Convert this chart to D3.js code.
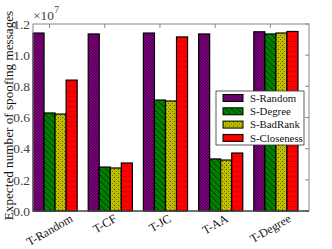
<!DOCTYPE html>
<meta charset="utf-8">
<head>
  <title>Expected spoofing messages</title>
  <style>
    body { margin: 0; background: #fff; }
    text { font-family: "Liberation Serif", "DejaVu Serif", serif; }
  </style>
</head>
<body>
<script src="https://d3js.org/d3.v7.min.js"></script>
<script>
var WIDTH = 332,
    HEIGHT = 249;

var categories = ["T-Random", "T-CF", "T-JC", "T-AA", "T-Degree"];
var seriesNames = ["S-Random", "S-Degree", "S-BadRank", "S-Closeness"];
var sRandom = [11420000, 11360000, 11420000, 11360000, 11500000];
var sDegree = [6290000, 2820000, 7120000, 3340000, 11360000];
var sBadRank = [6220000, 2760000, 7060000, 3270000, 11420000];
var sCloseness = [8400000, 3080000, 11170000, 3720000, 11520000];
var yTicks = [0, 2000000, 4000000, 6000000, 8000000, 10000000, 12000000];

var seriesValues = [sRandom, sDegree, sBadRank, sCloseness];
var fills = ["#800080", "#008000", "#bfbf00", "#ff0000"];

var margin = {left: 33, right: 23, top: 24, bottom: 38};
var plotW = WIDTH - margin.left - margin.right,
    plotH = HEIGHT - margin.top - margin.bottom;

var svg = d3.select("body").append("svg")
    .attr("width", WIDTH)
    .attr("height", HEIGHT);

// hatch patterns, a bit like matplotlib's / \ . -
var defs = svg.append("defs");

function pattern(id, size, fill, draw) {
  var p = defs.append("pattern")
      .attr("id", id)
      .attr("patternUnits", "userSpaceOnUse")
      .attr("width", size)
      .attr("height", size);
  p.append("rect").attr("width", size).attr("height", size).attr("fill", fill);
  draw(p);
}

pattern("h0", 3, fills[0], function(p) {
  p.append("path").attr("d", "M0,3 L3,0 M-1,1 L1,-1 M2,4 L4,2")
    .attr("stroke", "#300030").attr("stroke-width", 0.8);
});
pattern("h1", 6, fills[1], function(p) {
  p.append("path").attr("d", "M0,0 L6,6 M-1,5 L1,7 M5,-1 L7,1")
    .attr("stroke", "#002800").attr("stroke-width", 0.8);
});
pattern("h2", 4, fills[2], function(p) {
  p.append("rect").attr("x", 1).attr("y", 1).attr("width", 1).attr("height", 1).attr("fill", "#444400");
  p.append("rect").attr("x", 3).attr("y", 3).attr("width", 1).attr("height", 1).attr("fill", "#6a6a00");
});
pattern("h3", 5, fills[3], function(p) {
  p.append("path").attr("d", "M0,2.5 L5,2.5")
    .attr("stroke", "#d00000").attr("stroke-width", 0.7);
});

var g = svg.append("g")
    .attr("transform", "translate(" + margin.left + "," + margin.top + ")");

var x = d3.scaleLinear().domain([0, 5]).range([0, plotW]);
var y = d3.scaleLinear().domain([0, 12000000]).range([plotH, 0]);
var barW = 0.2;

// tick marks (inside, on all four sides)
var tickX = categories.map(function(d, i) { return i + 1.5 * barW; });
g.selectAll(".tt").data(tickX).enter().append("line")
    .attr("x1", function(d) { return x(d); }).attr("x2", function(d) { return x(d); })
    .attr("y1", 0).attr("y2", 4)
    .attr("stroke", "#888");
g.selectAll(".rt").data(yTicks).enter().append("line")
    .attr("x1", plotW).attr("x2", plotW - 4)
    .attr("y1", function(d) { return y(d); }).attr("y2", function(d) { return y(d); })
    .attr("stroke", "#888");

// bars
seriesValues.forEach(function(vals, s) {
  g.selectAll(".bar" + s).data(vals).enter().append("rect")
      .attr("x", function(d, i) { return x(i + s * barW); })
      .attr("width", x(barW) - x(0))
      .attr("y", function(d) { return y(d); })
      .attr("height", function(d) { return y(0) - y(d); })
      .attr("fill", "url(#h" + s + ")")
      .attr("stroke", "#000")
      .attr("stroke-width", 1.2);
});

// frame
g.append("rect")
    .attr("width", plotW).attr("height", plotH)
    .attr("fill", "none")
    .attr("stroke", "#888")
    .attr("stroke-width", 1);
g.append("line").attr("x1", 0).attr("x2", plotW).attr("y1", plotH).attr("y2", plotH)
    .attr("stroke", "#222").attr("stroke-width", 1);

// y tick labels
g.selectAll(".yl").data(yTicks).enter().append("text")
    .attr("x", -3)
    .attr("y", function(d) { return y(d); })
    .attr("dy", "0.35em")
    .attr("text-anchor", "end")
    .attr("font-size", 13.5)
    .attr("fill", "#444")
    .text(function(d) { return d3.format(".1f")(d / 1e7); });

// offset text
var off = svg.append("text")
    .attr("x", margin.left)
    .attr("y", 20)
    .attr("font-size", 13.5)
    .attr("fill", "#444");
off.append("tspan").text("\u00d710");
off.append("tspan").attr("font-size", 9.5).attr("dy", -7).text("7");

// x labels, rotated 30 degrees
g.selectAll(".xl").data(categories).enter().append("text")
    .attr("font-size", 12)
    .attr("fill", "#111")
    .attr("text-anchor", "middle")
    .attr("dominant-baseline", "central")
    .text(function(d) { return d; })
    .each(function(d, i) {
      var w = this.getComputedTextLength();
      var h = 8;
      var cy = plotH + 3 + (w * 0.5 + h * 0.866) / 2;
      d3.select(this).attr("transform",
        "translate(" + x(tickX[i]) + "," + cy + ") rotate(-30)");
    });

// y label
svg.append("text")
    .attr("transform", "translate(8," + (margin.top + plotH / 2 - 2) + ") rotate(-90)")
    .attr("text-anchor", "middle")
    .attr("dominant-baseline", "central")
    .attr("font-size", 13.2)
    .attr("fill", "#111")
    .text("Expected number of spoofing messages");

// legend
var legend = svg.append("g").attr("transform", "translate(216,91)");
legend.append("rect")
    .attr("width", 88).attr("height", 54)
    .attr("fill", "#fff")
    .attr("stroke", "#333")
    .attr("stroke-width", 0.8);
seriesNames.forEach(function(name, s) {
  var row = legend.append("g").attr("transform", "translate(0," + (7 + s * 13.3) + ")");
  row.append("rect")
      .attr("x", 7).attr("y", -3.5)
      .attr("width", 20).attr("height", 7)
      .attr("fill", "url(#h" + s + ")")
      .attr("stroke", "#000")
      .attr("stroke-width", 1);
  row.append("text")
      .attr("x", 34).attr("y", 0)
      .attr("dy", "0.35em")
      .attr("font-size", 10.8)
      .attr("fill", "#111")
      .text(name);
});
</script>
</body>
